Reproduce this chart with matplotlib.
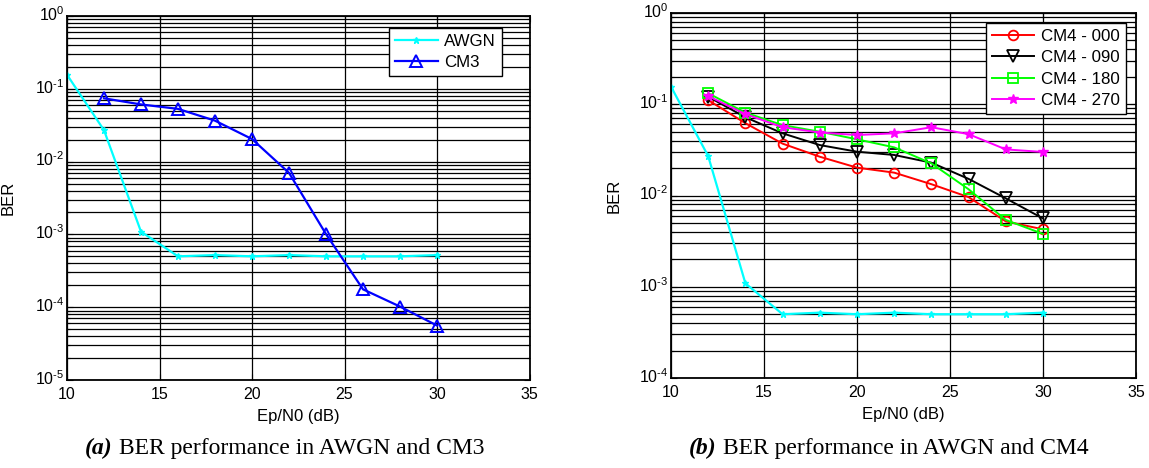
import matplotlib
matplotlib.use("Agg")
import matplotlib.pyplot as plt
import matplotlib.transforms as mtransforms
import numpy as np
from matplotlib.ticker import LogLocator, FixedLocator, NullFormatter, FuncFormatter

plt.rcParams['font.family'] = ['Liberation Sans', 'DejaVu Sans']
plt.rcParams['mathtext.fontset'] = 'custom'
plt.rcParams['mathtext.rm'] = 'Liberation Sans'
plt.rcParams['axes.unicode_minus'] = False

# Eb/N0 sweep (dB)
snr = [10, 12, 14, 16, 18, 20, 22, 24, 26, 28, 30]
snr_ch = [12, 14, 16, 18, 20, 22, 24, 26, 28, 30]

# BER results
ber_awgn = [0.156, 0.027, 1.09e-3, 5.0e-4, 5.2e-4, 5.0e-4, 5.2e-4, 5.0e-4, 5.0e-4, 5.0e-4, 5.2e-4]
ber_cm3 = [0.074, 0.061, 0.053, 0.0365, 0.0204, 0.0070, 1.01e-3, 1.76e-4, 1.02e-4, 5.6e-5]
ber_cm4_000 = [0.111, 0.062, 0.037, 0.0266, 0.0202, 0.0178, 0.0133, 0.0096, 5.2e-3, 4.26e-3]
ber_cm4_090 = [0.121, 0.072, 0.048, 0.0357, 0.0302, 0.0278, 0.0229, 0.0152, 0.0093, 5.6e-3]
ber_cm4_180 = [0.132, 0.081, 0.059, 0.050, 0.0413, 0.0337, 0.0225, 0.0117, 5.4e-3, 3.79e-3]
ber_cm4_270 = [0.123, 0.078, 0.056, 0.049, 0.046, 0.048, 0.056, 0.047, 0.032, 0.030]

x_ticks = [10, 15, 20, 25, 30, 35]
caption_a = ("(a)", "BER performance in AWGN and CM3")
caption_b = ("(b)", "BER performance in AWGN and CM4")

W, H = 1149, 468
fig = plt.figure(figsize=(W / 100, H / 100), dpi=100)

TICK_FS = 11.5
LABEL_FS = 12
LEG_FS = 12.2


def decade_label(v, pos):
    # "10" with a plain-hyphen exponent, MATLAB style
    e = int(round(np.log10(v)))
    return r'$\mathregular{10^{\text{%d}}}$' % e


def px_axes(left, right, top, bottom):
    return fig.add_axes([left / W, 1 - bottom / H, (right - left) / W, (bottom - top) / H])


def style(ax, ymin, ymax):
    ax.set_yscale('log')
    ax.set_xlim(10, 35)
    ax.set_ylim(ymin, ymax)
    ax.xaxis.set_major_locator(FixedLocator(x_ticks))
    ax.yaxis.set_major_locator(LogLocator(base=10, numticks=20))
    ax.yaxis.set_major_formatter(FuncFormatter(decade_label))
    ax.yaxis.set_minor_locator(LogLocator(base=10, subs=range(2, 10), numticks=20))
    ax.yaxis.set_minor_formatter(NullFormatter())
    ax.grid(True, which='major', color='black', linewidth=0.9, linestyle='-')
    ax.grid(True, which='minor', axis='y', color='black', linewidth=0.9, linestyle='-')
    ax.set_axisbelow(True)
    ax.tick_params(which='both', direction='in', top=True, right=True, labelsize=TICK_FS)
    ax.tick_params(which='major', length=4, width=0.8)
    ax.tick_params(which='minor', length=2, width=0.8)
    ax.tick_params(axis='y', which='major', pad=2)
    ax.tick_params(axis='x', which='major', pad=5)
    # lift the decade labels slightly so the base "10" sits on the tick
    lift = mtransforms.ScaledTranslation(0, 3 / 100, fig.dpi_scale_trans)
    for lab in ax.get_yticklabels():
        lab.set_transform(lab.get_transform() + lift)
    for s in ax.spines.values():
        s.set_linewidth(1.3)
    ax.set_xlabel('Ep/N0 (dB)', fontsize=LABEL_FS, labelpad=5)
    ax.set_ylabel('BER', fontsize=LABEL_FS)


def legend(ax, right, top):
    leg = ax.legend(loc='upper right', bbox_to_anchor=(right / W, 1 - top / H),
                    bbox_transform=fig.transFigure, borderaxespad=0,
                    fontsize=LEG_FS, fancybox=False, framealpha=1, edgecolor='black',
                    handlelength=2.5, borderpad=0.35, labelspacing=0.38, handletextpad=0.4)
    leg.get_frame().set_linewidth(1.0)
    return leg


# (a) AWGN vs CM3
ax1 = px_axes(67, 529.5, 16, 380)
style(ax1, 1e-5, 1)
ax1.plot(snr, ber_awgn, color='#00ffff', lw=1.6, marker='*', ms=5, label='AWGN')
ax1.plot(snr_ch, ber_cm3, color='#0000ff', lw=1.6, marker='^', ms=9, mfc='none', mew=1.4, label='CM3')
ax1.yaxis.set_label_coords(-0.110, 0.5)
legend(ax1, 502, 28)

# (b) AWGN vs CM4 orientations
ax2 = px_axes(671, 1136, 13, 378)
style(ax2, 1e-4, 1)
ax2.plot(snr, ber_awgn, color='#00ffff', lw=1.6, marker='*', ms=5)
ax2.plot(snr_ch, ber_cm4_000, color='#ff0000', lw=1.4, marker='o', ms=7, mfc='none', mew=1.3, label='CM4 - 000')
ax2.plot(snr_ch, ber_cm4_090, color='black', lw=1.4, marker='v', ms=8, mfc='none', mew=1.3, label='CM4 - 090')
ax2.plot(snr_ch, ber_cm4_180, color='#00ff00', lw=1.4, marker='s', ms=7, mfc='none', mew=1.3, label='CM4 - 180')
ax2.plot(snr_ch, ber_cm4_270, color='#ff00ff', lw=1.4, marker='*', ms=7, label='CM4 - 270')
ax2.yaxis.set_label_coords(-0.107, 0.5)
legend(ax2, 1126, 23)

# captions under each panel: bold-italic tag followed by plain text
cap_y = 1 - 454 / H
fig.canvas.draw()
renderer = fig.canvas.get_renderer()
for (tag, body), x_tag in [(caption_a, 85), (caption_b, 689)]:
    t = fig.text(x_tag / W, cap_y, tag, family='Liberation Serif', weight='bold', style='italic',
                 fontsize=17, va='baseline', ha='left')
    x_end = t.get_window_extent(renderer).x1
    fig.text((x_end + 6) / W, cap_y, body, family='Liberation Serif', fontsize=17,
             va='baseline', ha='left')

fig.savefig('out.png', dpi=100)
